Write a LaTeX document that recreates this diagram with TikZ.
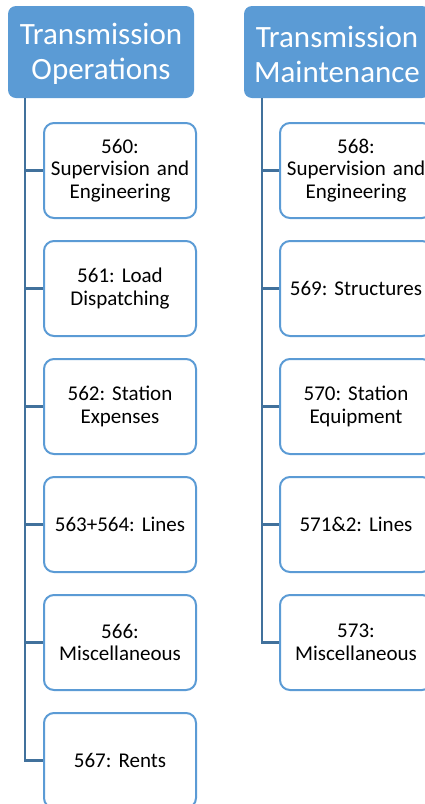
\documentclass[tikz,border=0pt]{standalone}
\usepackage{fontspec}
\setmainfont{Carlito}
\frenchspacing
\definecolor{hdr}{HTML}{5B9BD5}
\definecolor{bx}{HTML}{5B9BD5}
\definecolor{conn}{HTML}{41719C}
\begin{document}
\begin{tikzpicture}[x=1pt,y=-1pt,
  head/.style={rectangle, rounded corners=8pt, fill=hdr, text=white,
    minimum width=186pt, minimum height=92pt, inner sep=0pt,
    align=center, font=\fontsize{31}{35}\selectfont},
  headtext/.style={text=white, align=center, font=\fontsize{31}{35}\selectfont},
  child/.style={rectangle, draw=bx, line width=2pt, rounded corners=10pt, fill=white,
    minimum width=152pt, minimum height=95pt, inner sep=0pt, text width=146pt,
    align=center, text=black, font=\fontsize{21}{22.5}\selectfont},
  link/.style={draw=conn, line width=2.5pt}]
\useasboundingbox (0,0) rectangle (425,804);
\clip (0,0) rectangle (425,804);
% headers
\node[head] (h1) at (101,52) {};
\node[head] (h2) at (337,52) {};
\node[headtext] (h1t) at (101,54) {Transmission\\Operations};
\node[headtext] (h2t) at (337,54) {Transmission\\Maintenance};
\coordinate (t1) at (25,98);
\coordinate (t2) at (262,98);
% left children
\node[child] (a1) at (120,170.5) {560:\\Supervision and\\Engineering};
\node[child] (a2) at (120,288.5) {561: Load\\Dispatching};
\node[child] (a3) at (120,406.5) {562: Station\\Expenses};
\node[child] (a4) at (120,524.5) {563+564: Lines};
\node[child] (a5) at (120,642.5) {566:\\Miscellaneous};
\node[child] (a6) at (120,760.5) {567: Rents};
% right children
\node[child] (b1) at (356,170.5) {568:\\Supervision and\\Engineering};
\node[child] (b2) at (356,288.5) {569: Structures};
\node[child] (b3) at (356,406.5) {570: Station\\Equipment};
\node[child] (b4) at (356,524.5) {571\&2: Lines};
\node[child] (b5) at (356,642.5) {573:\\Miscellaneous};
% connectors
\draw[link] (t1) |- (a6.west);
\foreach \n in {a1,a2,a3,a4,a5} \draw[link] (\n.west) -- (\n.west -| t1);
\draw[link] (t2) |- (b5.west);
\foreach \n in {b1,b2,b3,b4} \draw[link] (\n.west) -- (\n.west -| t2);
\end{tikzpicture}
\end{document}
